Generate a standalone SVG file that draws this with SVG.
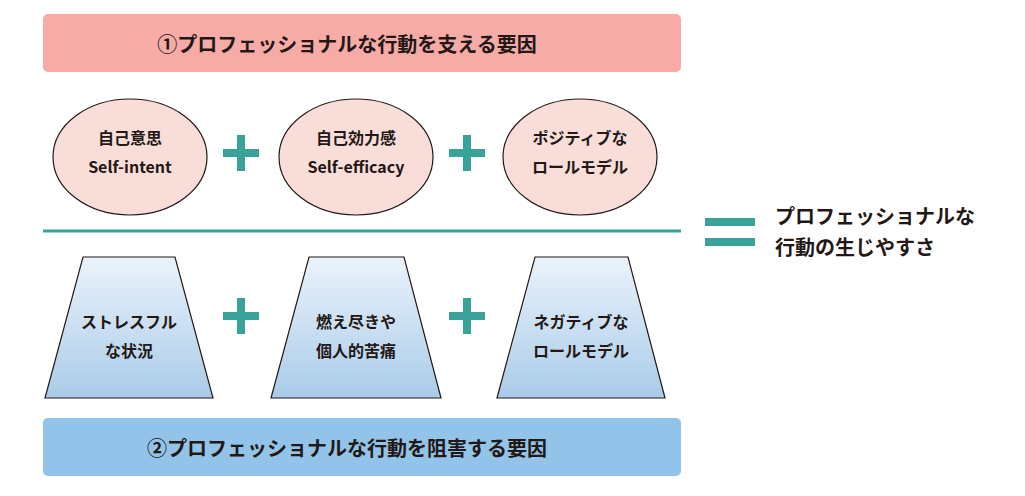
<svg xmlns="http://www.w3.org/2000/svg" width="1025" height="496" viewBox="0 0 1025 496">
<style>
text{font-family:"Noto Sans CJK JP","Noto Sans",sans-serif;font-weight:bold;fill:#231815;text-anchor:middle}
.big{font-size:20px}
.sm{font-size:16px}
.el{fill:#f9ddd8;stroke:#231815;stroke-width:1.2}
.tr{fill:url(#g);stroke:#231815;stroke-width:1.2}
.pl{stroke:#3aa399;stroke-width:8;fill:none}
</style>
<defs><linearGradient id="g" x1="0" y1="0" x2="0" y2="1"><stop offset="0" stop-color="#eaf3fb"/><stop offset="1" stop-color="#a9cbe9"/></linearGradient></defs>
<rect width="1025" height="496" fill="#fff"/>
<g id="top"><rect x="43" y="14" width="638" height="58" rx="5" fill="#f6aba6"/><text class="big" x="347" y="52">①プロフェッショナルな行動を支える要因</text></g>
<g id="n1"><ellipse class="el" cx="130" cy="157" rx="77" ry="58"/><text class="sm" x="130" y="144">自己意思</text><text class="sm" x="130" y="173">Self-intent</text></g>
<g id="n2"><ellipse class="el" cx="356" cy="157" rx="77" ry="58"/><text class="sm" x="356" y="144">自己効力感</text><text class="sm" x="356" y="173">Self-efficacy</text></g>
<g id="n3"><ellipse class="el" cx="580" cy="157" rx="77" ry="58"/><text class="sm" x="580" y="144">ポジティブな</text><text class="sm" x="580" y="173">ロールモデル</text></g>
<g id="n4"><polygon class="tr" points="83,257 175,257 213,398 45,398"/><text class="sm" x="129" y="328">ストレスフル</text><text class="sm" x="129" y="357">な状況</text></g>
<g id="n5"><polygon class="tr" points="309,257 404,257 441,398 271,398"/><text class="sm" x="356" y="328">燃え尽きや</text><text class="sm" x="356" y="357">個人的苦痛</text></g>
<g id="n6"><polygon class="tr" points="535,257 628,257 665,398 497,398"/><text class="sm" x="581" y="328">ネガティブな</text><text class="sm" x="581" y="357">ロールモデル</text></g>
<g id="bottom"><rect x="43" y="418" width="638" height="58" rx="5" fill="#91c4e8"/><text class="big" x="347" y="456">②プロフェッショナルな行動を阻害する要因</text></g>
<g id="res"><text class="big" x="775" y="224" style="text-anchor:start">プロフェッショナルな</text><text class="big" x="775" y="255" style="text-anchor:start">行動の生じやすさ</text></g>
<g id="connectors">
<line x1="43" y1="231" x2="681" y2="231" stroke="#3aa399" stroke-width="3"/>
<path class="pl" d="M223,153h36M241,135v36M449,153h36M467,135v36M223,316h36M241,298v36M449,316h36M467,298v36"/>
<path class="pl" d="M705,222h50M705,242h50"/>
</g>
</svg>
